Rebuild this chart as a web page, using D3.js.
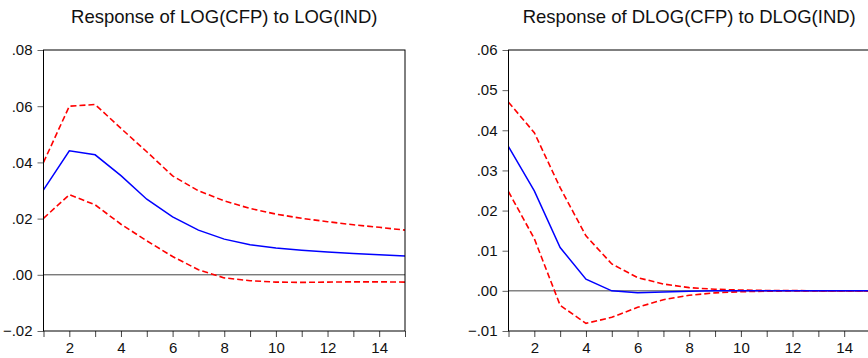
<!DOCTYPE html>
<html>
<head>
<meta charset="utf-8">
<script src="https://cdn.jsdelivr.net/npm/d3@7"></script>
<style>
  body { margin: 0; background: #fff; }
  svg { display: block; font-family: "Liberation Sans", Arial, sans-serif; }
</style>
</head>
<body>
<div id="chart"></div>
<script>
const periods = [1, 2, 3, 4, 5, 6, 7, 8, 9, 10, 11, 12, 13, 14, 15];

// Response of LOG(CFP) to LOG(IND)
const levelResp  = [0.0302, 0.0441, 0.0427, 0.0353, 0.0269, 0.0206, 0.0159, 0.0127, 0.0107, 0.0095, 0.0087, 0.0081, 0.0076, 0.0071, 0.0067];
const levelUpper = [0.0400, 0.0600, 0.0606, 0.0521, 0.0438, 0.0352, 0.0299, 0.0263, 0.0236, 0.0216, 0.0201, 0.0189, 0.0178, 0.0169, 0.0159];
const levelLower = [0.0201, 0.0285, 0.0249, 0.0180, 0.0121, 0.0065, 0.0018, -0.0011, -0.0021, -0.0026, -0.0027, -0.0026, -0.0025, -0.0025, -0.0026];
const levelTicks = [-0.02, 0.00, 0.02, 0.04, 0.06, 0.08];

// Response of DLOG(CFP) to DLOG(IND)
const diffResp  = [0.0359, 0.0249, 0.0108, 0.0029, 0.0000, -0.0005, -0.0003, -0.0001, 0, 0, 0, 0, 0, 0, 0];
const diffUpper = [0.0470, 0.0394, 0.0257, 0.0137, 0.0067, 0.0033, 0.0017, 0.0008, 0.0004, 0.0002, 0.0001, 0.0001, 0, 0, 0];
const diffLower = [0.0247, 0.0130, -0.0036, -0.0081, -0.0066, -0.0041, -0.0022, -0.0011, -0.0005, -0.0002, -0.0001, 0, 0, 0, 0];
const diffTicks = [-0.01, 0.00, 0.01, 0.02, 0.03, 0.04, 0.05, 0.06];

const xLabels = [2, 4, 6, 8, 10, 12, 14];

const W = 868, H = 358;
const TOP = 50, BOTTOM = 331;

const svg = d3.select("#chart").append("svg")
  .attr("width", W)
  .attr("height", H);

const fmt = v => {
  if (Math.abs(v) < 1e-9) return ".00";
  return d3.format(".2f")(v).replace("0.", ".");
};

function drawPanel(title, left, right, yDomain, yTicks, resp, upper, lower) {
  const x = d3.scaleLinear().domain([1, 15]).range([left, right]);
  const y = d3.scaleLinear().domain(yDomain).range([BOTTOM, TOP]);
  const g = svg.append("g");

  // title
  g.append("text")
    .attr("x", (left + right) / 2)
    .attr("y", 23)
    .attr("text-anchor", "middle")
    .attr("font-size", "18.5px")
    .attr("fill", "#111")
    .text(title);

  // y axis
  const yAxis = g.append("g")
    .attr("transform", `translate(${left}, 0)`)
    .call(d3.axisLeft(y).tickValues(yTicks).tickFormat(fmt).tickSize(6).tickPadding(5));
  yAxis.select(".domain").remove();
  yAxis.selectAll(".tick line").attr("stroke", "#666");
  yAxis.selectAll(".tick text")
    .attr("font-size", "15px")
    .attr("font-family", "Liberation Sans, Arial, sans-serif")
    .attr("fill", "#111");

  // x axis
  const xAxis = g.append("g")
    .attr("transform", `translate(0, ${BOTTOM})`)
    .call(d3.axisBottom(x).tickValues(periods)
      .tickFormat(d => xLabels.includes(d) ? d : "")
      .tickSize(6).tickPadding(5));
  xAxis.select(".domain").remove();
  xAxis.selectAll(".tick line").attr("stroke", "#444");
  xAxis.selectAll(".tick text")
    .attr("font-size", "15px")
    .attr("font-family", "Liberation Sans, Arial, sans-serif")
    .attr("fill", "#111");

  // zero line
  g.append("line")
    .attr("x1", left).attr("x2", right)
    .attr("y1", y(0)).attr("y2", y(0))
    .attr("stroke", "#444")
    .attr("stroke-width", 1);

  const line = d3.line()
    .x((d, i) => x(periods[i]))
    .y(d => y(d));

  [upper, lower].forEach(s => {
    g.append("path")
      .datum(s)
      .attr("d", line)
      .attr("fill", "none")
      .attr("stroke", "#ff0000")
      .attr("stroke-width", 1.6)
      .attr("stroke-dasharray", "6,3");
  });

  g.append("path")
    .datum(resp)
    .attr("d", line)
    .attr("fill", "none")
    .attr("stroke", "#0000ff")
    .attr("stroke-width", 1.5);

  // frame
  g.append("rect")
    .attr("x", left).attr("y", TOP)
    .attr("width", right - left).attr("height", BOTTOM - TOP)
    .attr("fill", "none")
    .attr("stroke", "#000")
    .attr("stroke-width", 1);
}

drawPanel("Response of LOG(CFP) to LOG(IND)", 43.5, 405, [-0.02, 0.08], levelTicks,
  levelResp, levelUpper, levelLower);
drawPanel("Response of DLOG(CFP) to DLOG(IND)", 508.5, 870, [-0.01, 0.06], diffTicks,
  diffResp, diffUpper, diffLower);
</script>
</body>
</html>
